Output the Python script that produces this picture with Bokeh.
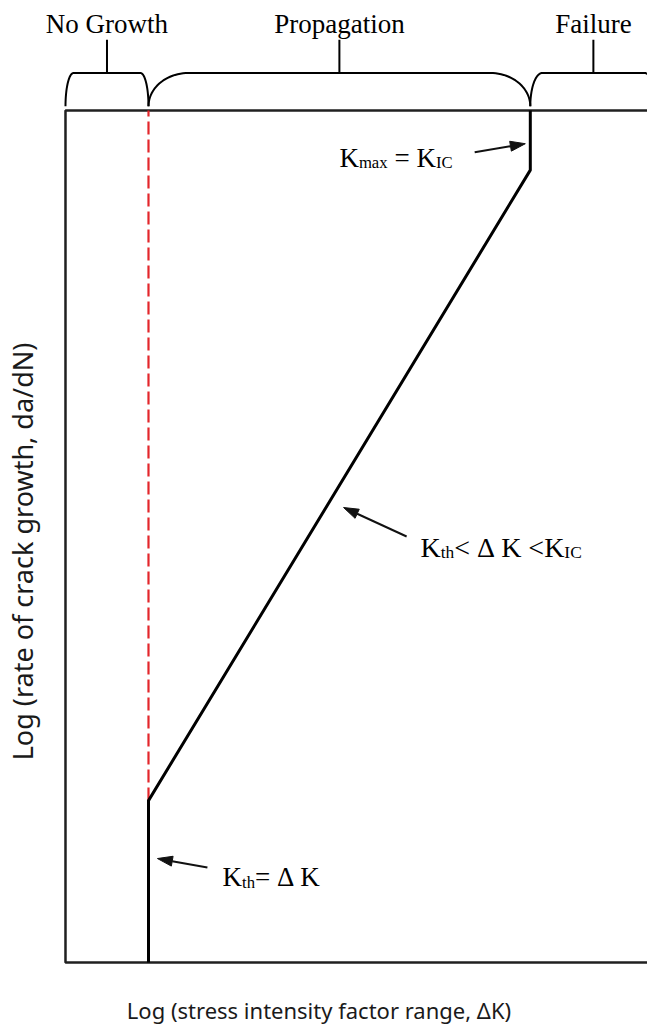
import numpy as np
from bokeh.plotting import figure
from bokeh.models import Range1d
from bokeh.embed import file_html
from bokeh.resources import INLINE
from bokeh.core.properties import value

# ---- schematic fatigue-crack-growth curve, in log units ----
log_dk_threshold = 1.0          # threshold stress intensity range
log_dk_critical = 5.6           # fracture toughness
curve_log_dk = [1.0, 1.0, 5.6, 5.6]
curve_log_rate = [0.0, 1.9, 9.3, 10.0]
box_log_rate_top = 10.0
knee_log_rate = 1.9

stage_names = ["No Growth", "Propagation", "Failure"]
stage_start = [0.0, 1.0, 5.6]
stage_end = [1.0, 5.6, 7.12]

# annotation arrows (tail -> head) and their labels
arrow_tail_x = [4.93, 4.11, 1.71]
arrow_tail_y = [9.51, 5.00, 1.115]
arrow_head_x = [5.54, 3.35, 1.108]
arrow_head_y = [9.61, 5.34, 1.22]

label_parts = [
    [("K", 0), ("max", 1), (" ", 0), ("=", 0), (" ", 0), ("K", 0), ("IC", 1)],
    [("K", 0), ("th", 1), ("<", 0), (" ", 0), ("\u0394", 0), (" ", 0), ("K", 0),
     (" ", 0), ("<", 0), ("K", 0), ("IC", 1)],
    [("K", 0), ("th", 1), ("=", 0), (" ", 0), ("\u0394", 0), (" ", 0), ("K", 0)],
]
label_x = [3.300, 4.277, 1.892]
label_y = [9.448, 4.874, 0.998]
label_size = [27.0, 28.0, 27.0]

x_title = "Log (stress intensity factor range, \u0394K)"
y_title = "Log (rate of crack growth, da/dN)"

# ---- canvas ----
W, H = 647, 1024
x_lo, x_hi = -0.783, 7.012
y_lo, y_hi = -0.728, 11.291
sx = W / (x_hi - x_lo)
sy = H / (y_hi - y_lo)

p = figure(width=W, height=H, output_backend="svg", toolbar_location=None,
           x_range=Range1d(x_lo, x_hi), y_range=Range1d(y_lo, y_hi),
           x_axis_location=None, y_axis_location=None, min_border=0)
p.min_border_left = p.min_border_right = p.min_border_top = p.min_border_bottom = 0
p.outline_line_color = None
p.grid.visible = False
p.background_fill_color = "white"
p.border_fill_color = "white"

# plot box (open on the right, runs past the edge)
p.line([x_hi + 0.3, 0.0, 0.0, x_hi + 0.3],
       [box_log_rate_top, box_log_rate_top, 0.0, 0.0],
       line_color="#202020", line_width=2.5)

# threshold asymptote
p.line([log_dk_threshold, log_dk_threshold], [knee_log_rate, box_log_rate_top],
       line_color="#e3262b", line_width=2.2, line_dash="13 5")

# crack-growth curve
p.line(curve_log_dk, curve_log_rate, line_color="black", line_width=3)

# stage braces above the box
brace_foot, brace_bar, brace_tip = 10.05, 10.44, 10.83
brace_round_px = [8, 40, 12]
t = np.linspace(0, np.pi / 2, 24)
for name, a, b, rpx in zip(stage_names, stage_start, stage_end, brace_round_px):
    r = rpx / sx
    h = brace_bar - brace_foot
    lx = a + r - r * np.cos(t)
    ly = brace_foot + h * np.sin(t)
    t2 = t[::-1]
    rx = b - r + r * np.cos(t2)
    ry = brace_foot + h * np.sin(t2)
    p.line(np.concatenate([lx, rx]), np.concatenate([ly, ry]),
           line_color="black", line_width=2)
    mid = (a + b) / 2
    p.line([mid, mid], [brace_bar, brace_tip], line_color="black", line_width=2)
    p.text(x=[mid], y=[11.01], text=[name], text_font=value("Liberation Serif"),
           text_font_size="27px", text_align="center", text_baseline="alphabetic",
           text_color="black")

# arrows with slim filled heads
head_len, head_half = 15.0, 5.0
for x0, y0, x1, y1 in zip(arrow_tail_x, arrow_tail_y, arrow_head_x, arrow_head_y):
    dx, dy = (x1 - x0) * sx, (y1 - y0) * sy
    L = np.hypot(dx, dy)
    ux, uy = dx / L, dy / L
    bx, by = -ux * head_len, -uy * head_len
    nx, ny = -uy * head_half, ux * head_half
    p.line([x0, x1 + bx / sx], [y0, y1 + by / sy], line_color="#111111", line_width=2)
    p.patch([x1, x1 + (bx + nx) / sx, x1 + (bx - nx) / sx],
            [y1, y1 + (by + ny) / sy, y1 + (by - ny) / sy],
            fill_color="#111111", line_color="#111111")

# labels with subscripts
adv = {"K": 0.722, "m": 0.778, "a": 0.444, "x": 0.5, " ": 0.25, "=": 0.564,
       "I": 0.333, "C": 0.667, "t": 0.278, "h": 0.5, "<": 0.564, "\u0394": 0.612}
for parts, x, y, base_size in zip(label_parts, label_x, label_y, label_size):
    cursor = 0.0
    for txt, sub in parts:
        fs = base_size * 0.62 if sub else base_size
        w = sum(adv[c] for c in txt) * fs
        if txt.strip():
            p.text(x=[x + cursor / sx], y=[y - (5.0 if sub else 0.0) / sy], text=[txt],
                   text_font=value("Liberation Serif"), text_font_size=f"{fs:.1f}px",
                   text_align="left", text_baseline="alphabetic", text_color="black")
        cursor += w

# axis titles
p.text(x=[3.054], y=[-0.563], text=[x_title], text_font=value("Noto Sans"),
       text_font_size="22px", text_align="center", text_baseline="alphabetic",
       text_color="#1a1a1a")
p.text(x=[-0.518], y=[4.824], text=[y_title], text_font=value("Noto Sans"),
       text_font_size="27px", text_align="center", text_baseline="middle",
       text_color="#1a1a1a", angle=np.pi / 2)

open("out.html", "w").write(file_html(p, INLINE))
